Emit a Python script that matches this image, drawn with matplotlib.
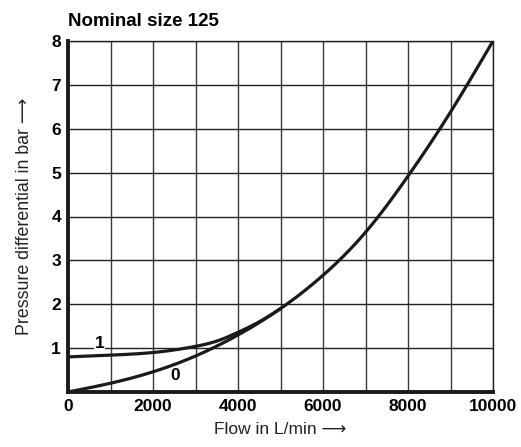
import matplotlib
matplotlib.use("Agg")
import matplotlib.pyplot as plt
import numpy as np

flow0 = [0, 1000, 2000, 3000, 4000, 5000, 6000, 7000, 8000, 9000, 10000]
dp0 = [0, 0.2, 0.46, 0.82, 1.3, 1.9, 2.66, 3.64, 4.92, 6.38, 8.0]
flow1 = [0, 1000, 2000, 3000, 3500, 4000, 4500, 5000]
dp1 = [0.8, 0.84, 0.9, 1.04, 1.16, 1.36, 1.6, 1.9]
xticks = [0, 2000, 4000, 6000, 8000, 10000]
yticks = [1, 2, 3, 4, 5, 6, 7, 8]

plt.rcParams['font.family'] = ['Liberation Sans', 'DejaVu Sans']

fig = plt.figure(figsize=(5.21, 4.47), dpi=100)
ax = fig.add_axes([68/521, 1-392/447, (493-68)/521, (392-41)/447])


def spline(xs, ys, n=300):
    """Natural cubic spline through the points, for smooth drawing."""
    xs = np.asarray(xs, float)
    ys = np.asarray(ys, float)
    k = len(xs)
    h = np.diff(xs)
    A = np.zeros((k, k))
    b = np.zeros(k)
    A[0, 0] = A[-1, -1] = 1
    for i in range(1, k - 1):
        A[i, i - 1] = h[i - 1]
        A[i, i] = 2 * (h[i - 1] + h[i])
        A[i, i + 1] = h[i]
        b[i] = 6 * ((ys[i + 1] - ys[i]) / h[i] - (ys[i] - ys[i - 1]) / h[i - 1])
    M = np.linalg.solve(A, b)
    xx = np.linspace(xs[0], xs[-1], n)
    idx = np.clip(np.searchsorted(xs, xx) - 1, 0, k - 2)
    x0, x1 = xs[idx], xs[idx + 1]
    hh = h[idx]
    yy = (M[idx] * (x1 - xx) ** 3 / (6 * hh) + M[idx + 1] * (xx - x0) ** 3 / (6 * hh)
          + (ys[idx] / hh - M[idx] * hh / 6) * (x1 - xx)
          + (ys[idx + 1] / hh - M[idx + 1] * hh / 6) * (xx - x0))
    return xx, yy


ax.set_xlim(0, 10000)
ax.set_ylim(0, 8)
for xv in range(1000, 10001, 1000):
    ax.axvline(xv, color='#3a3a3a', lw=1.0, zorder=1)
for yv in range(1, 9):
    ax.axhline(yv, color='#222222', lw=1.0, zorder=1)

xa, ya = spline(flow0, dp0)
xb, yb = spline(flow1, dp1)
ax.plot(xa, ya, color='#1a1a1a', lw=2.3, zorder=3, solid_capstyle='butt')
ax.plot(xb, yb, color='#1a1a1a', lw=2.3, zorder=3, solid_capstyle='butt')

ax.text(750, 1.1, '1', fontsize=12.5, fontweight='bold', ha='center', va='center',
        bbox=dict(facecolor='white', edgecolor='none', pad=0.5), zorder=2)
ax.text(2520, 0.37, '0', fontsize=12.5, fontweight='bold', ha='center', va='center', zorder=2)

for s in ['left', 'bottom']:
    ax.spines[s].set_linewidth(2.8)
    ax.spines[s].set_color('#1a1a1a')
for s in ['top', 'right']:
    ax.spines[s].set_linewidth(1.0)
    ax.spines[s].set_color('#222222')

ax.set_xticks(xticks)
ax.set_yticks(yticks)
ax.set_xticklabels([str(v) for v in xticks], fontsize=12.5, fontweight='bold')
ax.set_yticklabels([str(v) for v in yticks], fontsize=12.5, fontweight='bold')
ax.tick_params(length=0, pad=5)

ax.set_xlabel('Flow in L/min \u27f6', fontsize=12.5, labelpad=6, color='#222222')
ax.set_ylabel('Pressure differential in bar \u27f6', fontsize=12.8, labelpad=13, color='#222222')
ax.text(0, 1.03, 'Nominal size 125', transform=ax.transAxes, fontsize=13.5,
        fontweight='bold', ha='left', va='bottom')

fig.savefig('out.png', dpi=100)
